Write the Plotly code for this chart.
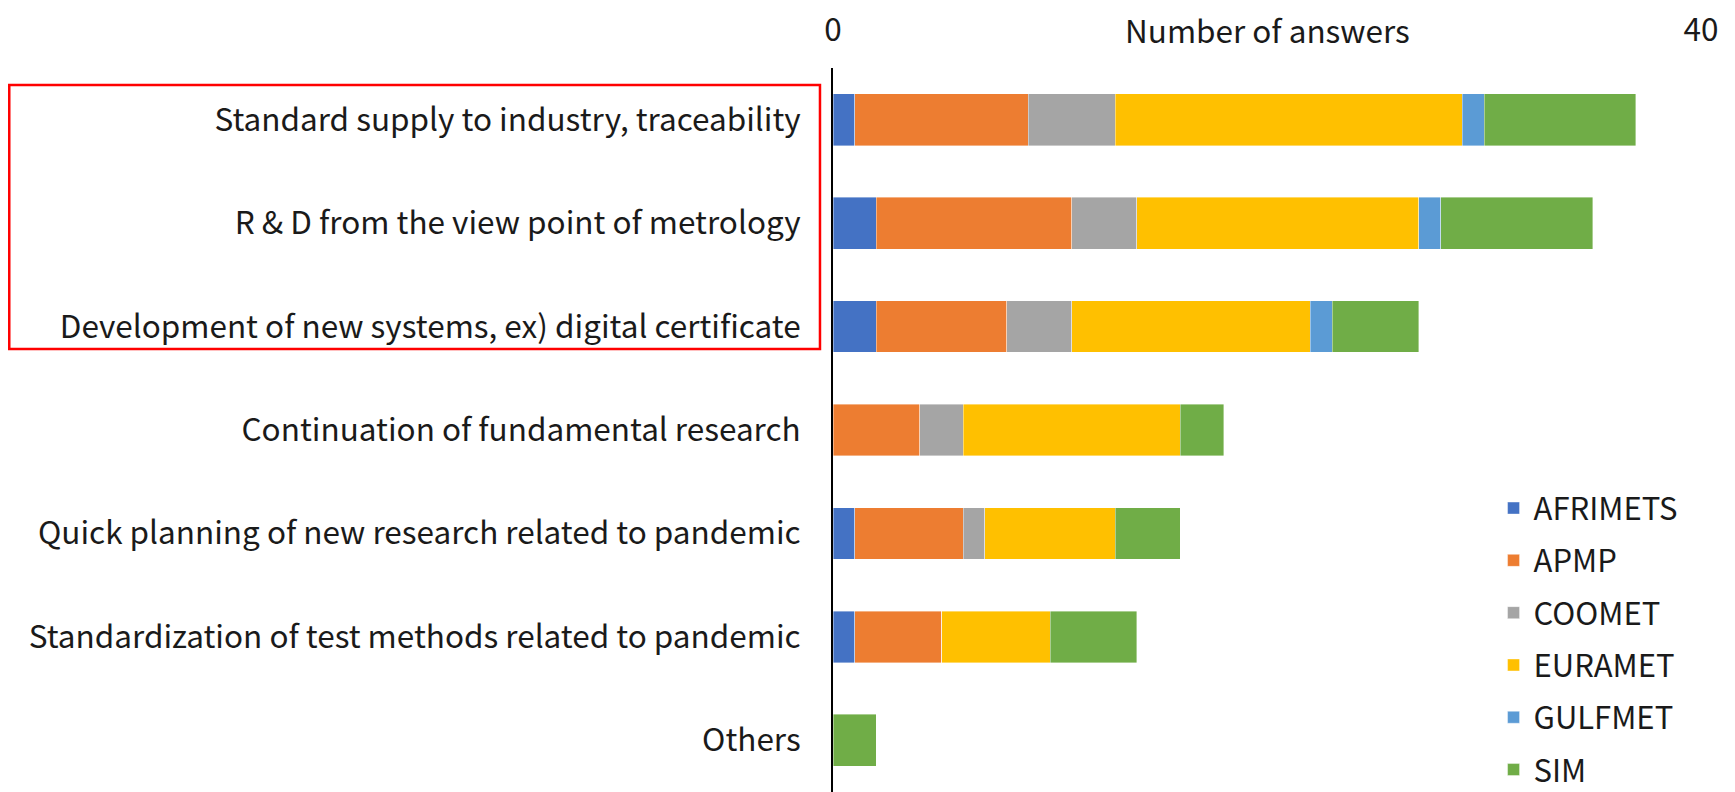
import plotly.graph_objects as go

categories = [
    "Standard supply to industry, traceability",
    "R & D from the view point of metrology",
    "Development of new systems, ex) digital certificate",
    "Continuation of fundamental research",
    "Quick planning of new research related to pandemic",
    "Standardization of test methods related to pandemic",
    "Others",
]
AFRIMETS = [1, 2, 2, 0, 1, 1, 0]
APMP = [8, 9, 6, 4, 5, 4, 0]
COOMET = [4, 3, 3, 2, 1, 0, 0]
EURAMET = [16, 13, 11, 10, 6, 5, 0]
GULFMET = [1, 1, 1, 0, 0, 0, 0]
SIM = [7, 7, 4, 2, 3, 4, 2]

series = [
    ("AFRIMETS", AFRIMETS, "#4472C4"),
    ("APMP", APMP, "#ED7D31"),
    ("COOMET", COOMET, "#A5A5A5"),
    ("EURAMET", EURAMET, "#FFC000"),
    ("GULFMET", GULFMET, "#5B9BD5"),
    ("SIM", SIM, "#70AD47"),
]

FONT = "Noto Sans CJK JP"
TXT = "#1a1a1a"
FS = 31.5

fig = go.Figure()
for i, (name, vals, col) in enumerate(series):
    fig.add_trace(go.Bar(
        y=categories, x=vals, name=name, orientation="h",
        marker=dict(color=col, line=dict(width=0.8, color="rgba(255,255,255,0.5)")),
        legendgroup=f"g{i}",
    ))

fig.update_layout(
    barmode="stack",
    bargap=0.5,
    width=1735, height=792,
    margin=dict(l=833, r=34, t=68, b=0, autoexpand=False),
    paper_bgcolor="white", plot_bgcolor="white",
    font=dict(family=FONT, color=TXT, size=FS),
    showlegend=True,
    legend=dict(
        x=0.761, y=0.429, xanchor="left", yanchor="top",
        traceorder="grouped", tracegroupgap=9,
        font=dict(size=FS - 0.5, family=FONT, color=TXT),
        bgcolor="rgba(0,0,0,0)",
        itemwidth=30,
    ),
    xaxis=dict(
        side="top", range=[0, 40], tickvals=[0, 40],
        showgrid=True, gridcolor="#D9D9D9", gridwidth=1.5,
        zeroline=False, showline=False,
        tickfont=dict(size=FS, family=FONT, color=TXT),
        ticklabelstandoff=20,
        automargin=False,
    ),
    yaxis=dict(
        autorange="reversed",
        showline=True, linecolor="black", linewidth=2,
        showgrid=False,
        tickfont=dict(size=FS, family=FONT, color=TXT),
        ticklabelstandoff=24,
        automargin=False,
    ),
    annotations=[dict(
        text="Number of answers", xref="paper", yref="paper",
        x=0.5, y=1, yshift=39, xanchor="center", yanchor="middle",
        showarrow=False, font=dict(size=FS, family=FONT, color=TXT),
    )],
    shapes=[dict(
        type="rect", xref="paper", yref="paper",
        x0=-0.949, x1=-0.015, y0=0.612, y1=0.9765,
        line=dict(color="#FF0000", width=2.5), fillcolor="rgba(0,0,0,0)",
    )],
)

fig.write_html(
    "out.html",
    config={"displayModeBar": False},
    post_script="document.body.style.margin='0';document.body.style.overflow='hidden';",
)
